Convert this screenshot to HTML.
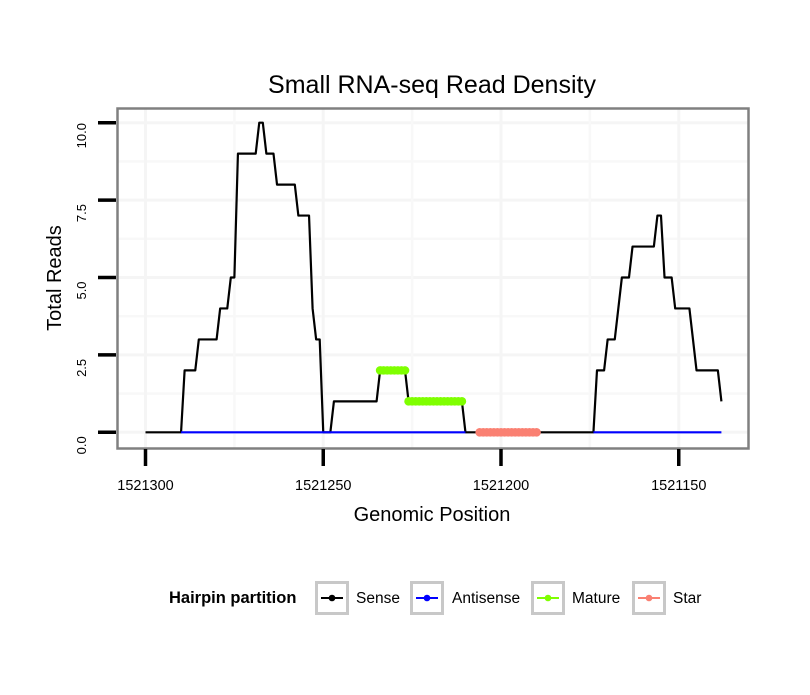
<!DOCTYPE html>
<html><head><meta charset="utf-8"><style>
body{margin:0;background:#fff;}
svg text{font-family:"Liberation Sans",sans-serif;}
</style></head><body>
<svg id="chart" width="810" height="690" viewBox="0 0 810 690" xmlns="http://www.w3.org/2000/svg">
<rect x="0" y="0" width="810" height="690" fill="#fff"/>
<text x="432" y="93" text-anchor="middle" font-size="25" fill="#000">Small RNA-seq Read Density</text>
<g id="grid"></g>
<g id="series"></g>
<rect x="117.5" y="108.5" width="631" height="340" fill="none" stroke="#808080" stroke-width="2.5"/>
<g id="axes"></g>
<text x="432" y="521" text-anchor="middle" font-size="20">Genomic Position</text>
<text transform="translate(61,278) rotate(-90)" text-anchor="middle" font-size="20">Total Reads</text>
<g id="legend">
<text x="169" y="603" font-size="16.5" font-weight="bold">Hairpin partition</text>
</g>
</svg>
<script>
const startPos = 1521300;
const sense = [0,0,0,0,0,0,0,0,0,0,0, 2,2,2,2, 3,3,3,3,3,3, 4,4,4, 5,5, 9,9,9,9,9,9, 10,10, 9,9,9, 8,8,8,8,8,8, 7,7,7,7, 4, 3,3, 0,0,0, 1,1,1,1,1,1,1,1,1,1,1,1,1, 2,2,2,2,2,2,2,2, 1,1,1,1,1,1,1,1,1,1,1,1,1,1,1,1, 0,0,0,0,0,0,0,0,0,0,0,0,0,0,0,0,0,0,0,0,0,0,0,0,0,0,0,0,0,0,0,0,0,0,0,0,0, 2,2,2, 3,3,3, 4, 5,5,5, 6,6,6,6,6,6,6, 7,7, 5,5,5, 4,4,4,4,4, 3, 2,2,2,2,2,2,2, 1];
const antisenseRanges = [[10,90],[126,162]];
const matureStart = 66;
const mature = [2,2,2,2,2,2,2,2,1,1,1,1,1,1,1,1,1,1,1,1,1,1,1,1];
const starStart = 94;
const star = [0,0,0,0,0,0,0,0,0,0,0,0,0,0,0,0,0];
const xTicks = [1521300,1521250,1521200,1521150];
const yTicks = [0,2.5,5,7.5,10];
const yTickLabels = ["0.0","2.5","5.0","7.5","10.0"];
const legendLabels = ["Sense","Antisense","Mature","Star"];
const legendColors = ["#000000","#0000ff","#7fff00","#fa8072"];

const NS="http://www.w3.org/2000/svg";
function X(pos){return 145.5+(1521300-pos)*3.555;}
function Y(v){return 432.3-v*30.96;}
function mk(tag,attrs,parent){const e=document.createElementNS(NS,tag);for(const k in attrs)e.setAttribute(k,attrs[k]);parent.appendChild(e);return e;}
const grid=document.getElementById('grid'),series=document.getElementById('series'),axes=document.getElementById('axes'),legend=document.getElementById('legend');

for(let i=0;i<yTicks.length;i++){
  const g=mk('line',{x1:118,x2:748,y1:Y(yTicks[i]),y2:Y(yTicks[i]),stroke:'#f5f5f5','stroke-width':3},grid);
  
  
  if(i<yTicks.length-1){const m=mk('line',{x1:118,x2:748,y1:Y((yTicks[i]+yTicks[i+1])/2),y2:Y((yTicks[i]+yTicks[i+1])/2),stroke:'#f8f8f8','stroke-width':2.5},grid);
  
  }
}
for(let i=0;i<xTicks.length;i++){
  const g=mk('line',{x1:X(xTicks[i]),x2:X(xTicks[i]),y1:109,y2:448,stroke:'#f5f5f5','stroke-width':3},grid);
  
  
  if(i<xTicks.length-1){const mx=X((xTicks[i]+xTicks[i+1])/2);const m=mk('line',{x1:mx,x2:mx,y1:109,y2:448,stroke:'#f8f8f8','stroke-width':2.5},grid);
  
  }
}
function path(start,vals){return vals.map((v,i)=>(i?'L':'M')+X(startPos-start-i).toFixed(2)+','+Y(v).toFixed(2)).join(' ');}
const sp=mk('path',{d:path(0,sense),fill:'none',stroke:'#000','stroke-width':2.2,'stroke-linejoin':'round'},series);


antisenseRanges.forEach(r=>{
  const vals=[];for(let k=r[0];k<=r[1];k++)vals.push(0);
  const ap=mk('path',{d:path(r[0],vals),fill:'none',stroke:'#0000ff','stroke-width':2.2},series);
  
  
});
function dotted(start,vals,color,name){
  vals.forEach((v,i)=>{const c=mk('circle',{cx:X(startPos-start-i),cy:Y(v),r:4.3,fill:color},series);
    
    });
}
dotted(matureStart,mature,'#7fff00','mature');
dotted(starStart,star,'#fa8072','star');
yTicks.forEach((t,i)=>{
  const l=mk('line',{x1:98,x2:116,y1:Y(t),y2:Y(t),stroke:'#000','stroke-width':3.5},axes);
  
  
  const tx=mk('text',{transform:`translate(86,${Y(t)+13}) rotate(-90)`,'text-anchor':'middle','font-size':13},axes);
  tx.textContent=yTickLabels[i];
  
  
});
xTicks.forEach(t=>{
  const l=mk('line',{x1:X(t),x2:X(t),y1:449,y2:466,stroke:'#000','stroke-width':3.5},axes);
  
  
  const tx=mk('text',{x:X(t),y:490,'text-anchor':'middle','font-size':14.5},axes);
  tx.textContent=String(t);
  
  
});
const boxX=[315,410,531,632],textX=[356,452,572,673];
legendLabels.forEach((lab,i)=>{
  const b=mk('rect',{x:boxX[i]+1.5,y:582.5,width:31,height:31,fill:'#fff',stroke:'#c8c8c8','stroke-width':3},legend);
  
  
  const l=mk('line',{x1:boxX[i]+6,x2:boxX[i]+28,y1:598,y2:598,stroke:legendColors[i],'stroke-width':2},legend);
  
  
  const c=mk('circle',{cx:boxX[i]+17,cy:598,r:3.3,fill:legendColors[i]},legend);
  
  
  const t=mk('text',{x:textX[i],y:603,'font-size':15.5},legend);
  t.textContent=lab;
  
  
});
</script>
</body></html>
